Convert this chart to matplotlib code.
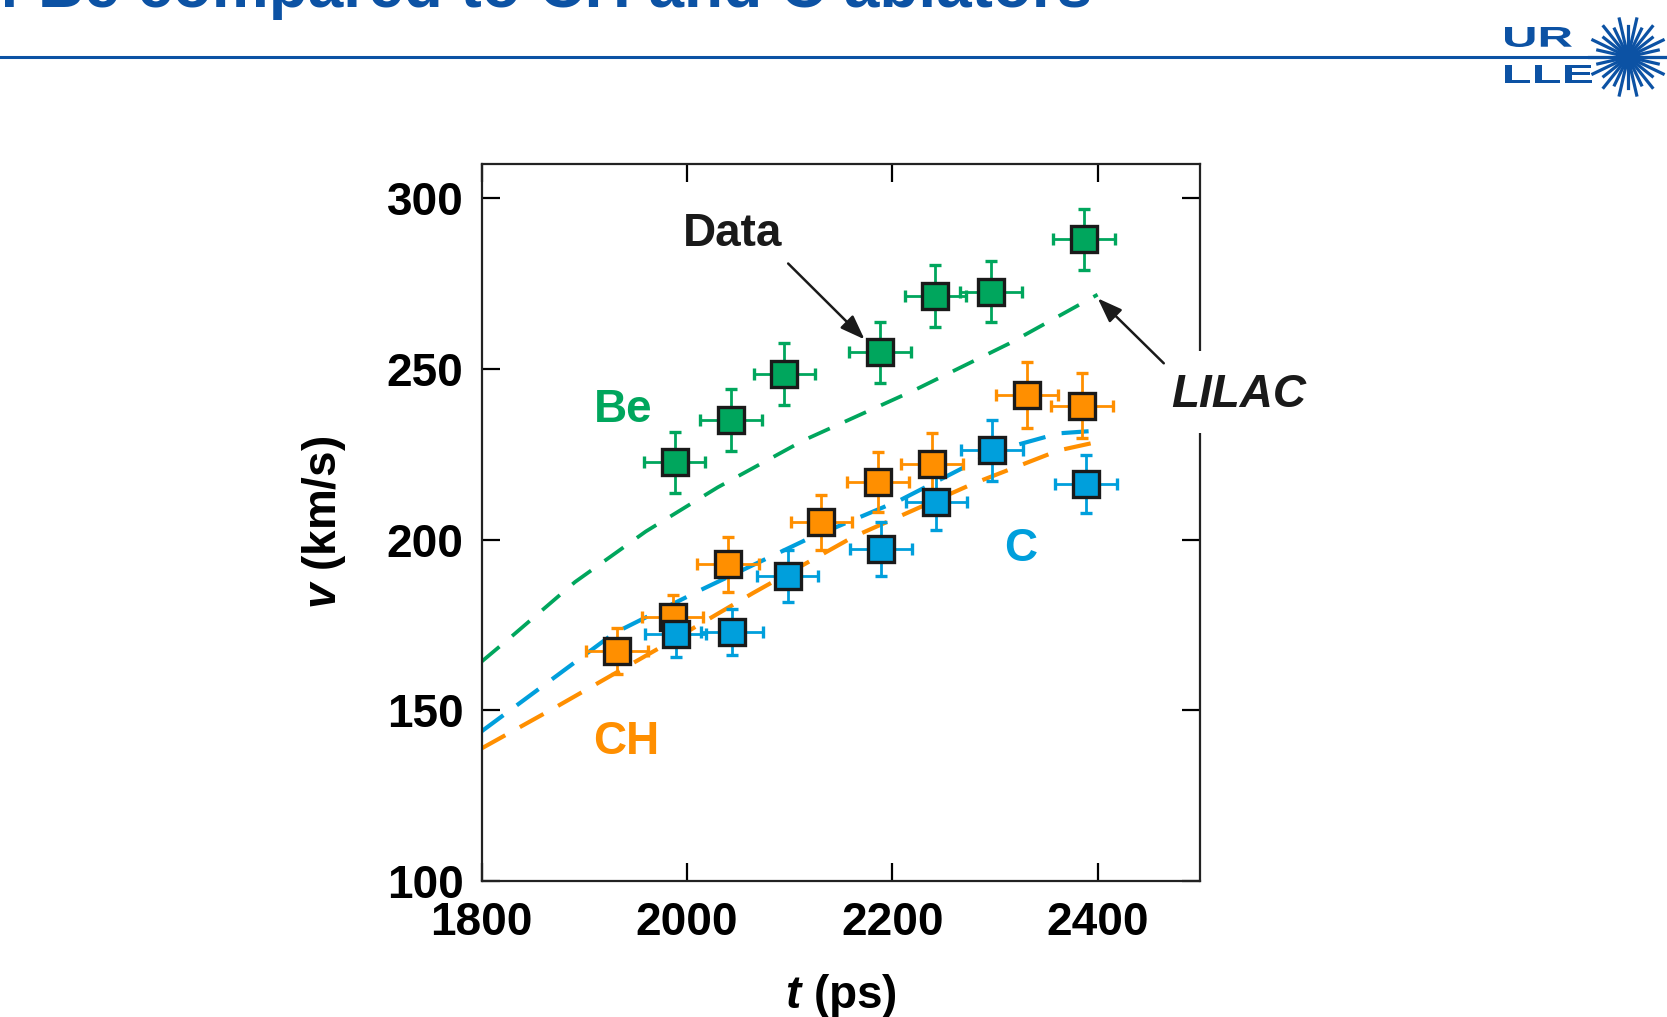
import numpy as np
import matplotlib
matplotlib.use('Agg')
import matplotlib.pyplot as plt
from matplotlib.patches import Rectangle, PathPatch, Circle
from matplotlib.textpath import TextPath
from matplotlib.font_manager import FontProperties
from matplotlib.transforms import Affine2D
from matplotlib.lines import Line2D

plt.rcParams['font.family'] = ['Liberation Sans', 'DejaVu Sans']
plt.rcParams['font.weight'] = 'bold'
plt.rcParams['mathtext.fontset'] = 'custom'
plt.rcParams['mathtext.it'] = 'Liberation Sans:italic:bold'
plt.rcParams['mathtext.rm'] = 'Liberation Sans:bold'

# measured implosion velocities (t in ps, v in km/s)
t_be = [1988, 2043, 2095, 2188, 2242, 2296, 2387]
v_be = [222.6, 235.0, 248.4, 254.8, 271.3, 272.5, 287.9]
e_be = [8.9, 9.0, 9.0, 9.0, 9.0, 8.9, 9.0]

t_ch = [1932, 1986, 2040, 2131, 2186, 2239, 2331, 2385]
v_ch = [167.5, 177.4, 192.8, 205.1, 216.8, 222.1, 242.3, 239.2]
e_ch = [6.7, 6.5, 8.0, 8.1, 8.8, 9.0, 9.7, 9.5]

t_c = [1989, 2044, 2098, 2189, 2243, 2297, 2389]
v_c = [172.3, 172.9, 189.3, 197.3, 211.1, 226.2, 216.3]
e_c = [6.7, 6.7, 7.7, 8.0, 8.3, 8.9, 8.4]

t_err = 30

# LILAC simulations
sim_t_be = [1800, 1829, 1891, 1960, 2030, 2114, 2222, 2314, 2400]
sim_v_be = [164.3, 171.6, 187.6, 202.4, 215.3, 229.1, 243.8, 257.4, 271.7]
sim_t_c = [1800, 1863, 1929, 2013, 2115, 2208, 2302, 2362, 2400]
sim_v_c = [143.9, 157.9, 172.6, 185.2, 199.8, 211.6, 226.1, 231.1, 231.9]
sim_t_ch = [1800, 1873, 1975, 2064, 2162, 2279, 2362, 2400]
sim_v_ch = [138.9, 151.1, 168.6, 184.3, 200.8, 216.4, 226.1, 228.6]

green = '#00a65d'
orange = '#ff8f00'
cyan = '#009fdc'
navy = '#0c52a4'

W, H = 1667, 1017
fig = plt.figure(figsize=(W / 100, H / 100), dpi=100)
ax = fig.add_axes([0.2889, 0.1334, 0.4311, 0.7056])

ax.plot(sim_t_be, sim_v_be, color=green, lw=2.7, ls=(0, (6.2, 4.4)), zorder=2)
ax.plot(sim_t_c, sim_v_c, color=cyan, lw=3.0, ls=(0, (6.5, 4.0)), zorder=2)
ax.plot(sim_t_ch, sim_v_ch, color=orange, lw=3.0, ls=(0, (6.5, 4.0)), zorder=2)

for t, v, e, c in [(t_be, v_be, e_be, green), (t_ch, v_ch, e_ch, orange), (t_c, v_c, e_c, cyan)]:
    ax.errorbar(t, v, xerr=t_err, yerr=e, fmt='s', ms=18.5, mfc=c, mec='#1a1a1a', mew=2.4,
                ecolor=c, elinewidth=2.0, capsize=4, capthick=2.0, zorder=4)

ax.set_xlim(1800, 2500)
ax.set_ylim(100, 310)
ax.set_xticks([1800, 2000, 2200, 2400])
ax.set_yticks([100, 150, 200, 250, 300])
ax.tick_params(direction='in', length=13, width=1.6, top=True, right=True, labelsize=33)
ax.tick_params(axis='x', pad=14)
ax.tick_params(axis='y', pad=13)
for s in ax.spines.values():
    s.set_linewidth(1.6)
    s.set_color('#222222')

ax.set_xlabel(r'$\mathit{t}$ (ps)', fontsize=33, fontweight='bold')
ax.set_ylabel(r'$\mathit{v}$ (km/s)', fontsize=33, fontweight='bold')
ax.xaxis.set_label_coords(0.5, -0.126)
ax.yaxis.set_label_coords(-0.186, 0.5)

ax.text(1938, 237.8, 'Be', color=green, fontsize=33, fontweight='bold', ha='center', va='center')
ax.text(1941, 140.8, 'CH', color=orange, fontsize=33, fontweight='bold', ha='center', va='center')
ax.text(2325, 197.2, 'C', color=cyan, fontsize=33, fontweight='bold', ha='center', va='center')
ax.text(2044, 289.3, 'Data', color='#1a1a1a', fontsize=33, fontweight='bold', ha='center', va='center')

# white patch breaking the right spine behind the LILAC label
ax.add_patch(Rectangle((0.965, 0.6247), 0.05, 0.1143, transform=ax.transAxes,
                       facecolor='white', edgecolor='none', clip_on=False, zorder=5))
ax.text(2537, 242.2, 'LILAC', color='#1a1a1a', fontsize=33, fontweight='bold', fontstyle='italic',
        ha='center', va='center', zorder=6, clip_on=False)

arrow = dict(arrowstyle='-|>,head_length=0.6,head_width=0.22', color='#1a1a1a', lw=1.8,
             mutation_scale=25, shrinkA=0, shrinkB=0)
ax.annotate('', xy=(2173, 258.6), xytext=(2098.6, 280.8), arrowprops=arrow, zorder=6)
ax.annotate('', xy=(2400.2, 270.6), xytext=(2464.5, 251.6), arrowprops=arrow,
            zorder=6, annotation_clip=False)

# header: title, rule and logo
fig.text(1092 / W, 1 - 7 / H, 'Implosion velocity of Be compared to CH and C ablators',
         color=navy, fontsize=46, fontweight='bold', ha='right', va='baseline')
fig.add_artist(Line2D([0, 1], [1 - 57 / H] * 2, transform=fig.transFigure, color=navy, lw=2.2))

fp = FontProperties(family='Liberation Sans', weight='bold')


def logo_word(s, x0, x1, ytop, ybot):
    tp = TextPath((0, 0), s, size=100, prop=fp)
    bb = tp.get_extents()
    sx = (x1 - x0) / bb.width / W
    sy = (ybot - ytop) / bb.height / H
    tr = Affine2D().translate(-bb.x0, -bb.y0).scale(sx, sy).translate(x0 / W, 1 - ybot / H)
    fig.add_artist(PathPatch(tp, transform=tr + fig.transFigure, facecolor=navy, edgecolor='none'))


logo_word('UR', 1505, 1572, 27, 47)
logo_word('LLE', 1505, 1592, 65, 83)

cx, cy = 1628, 57
n_rays = 28
for k in range(n_rays):
    a = 2 * np.pi * k / n_rays
    r = 39 if k % 2 == 0 else 31
    fig.add_artist(Line2D([(cx + 8 * np.cos(a)) / W, (cx + r * np.cos(a)) / W],
                          [1 - (cy - 8 * np.sin(a)) / H, 1 - (cy - r * np.sin(a)) / H],
                          transform=fig.transFigure, color=navy, lw=2.3))
fig.add_artist(Circle((cx / W, 1 - cy / H), 12 / W, transform=fig.transFigure,
                      facecolor=navy, edgecolor='none'))

fig.savefig('out.png', dpi=100)
